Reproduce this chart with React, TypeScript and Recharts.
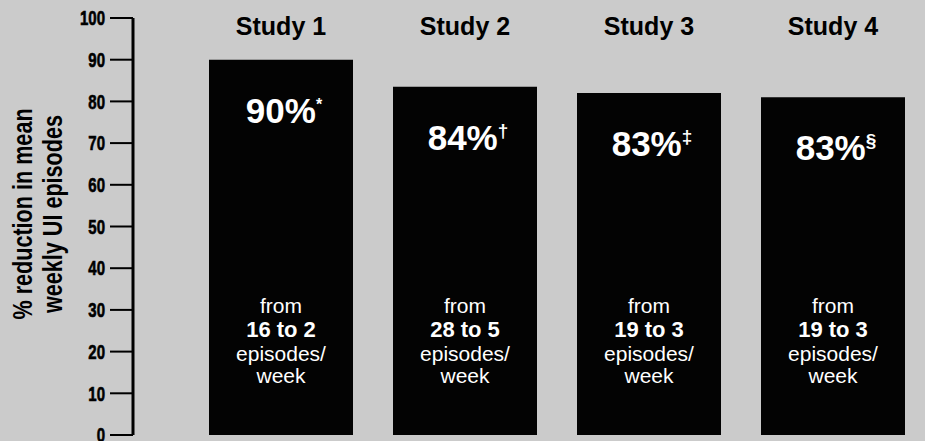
import { Bar, BarChart, XAxis, YAxis, LabelList, Label } from "recharts";

const studies = ["Study 1", "Study 2", "Study 3", "Study 4"];
const reductions = [90, 83.5, 82, 81];
const percentLabels = ["90%", "84%", "83%", "83%"];
const footnotes = ["*", "\u2020", "\u2021", "\u00A7"];
const episodesFrom = [16, 28, 19, 19];
const episodesTo = [2, 5, 3, 3];
const yTicks = [0, 10, 20, 30, 40, 50, 60, 70, 80, 90, 100];

// no condensed face available, so squeeze the bold sans horizontally
const SANS = '"Liberation Sans", Arial, Helvetica, sans-serif';
const SQUEEZE = 0.8;

const data = studies.map((study, i) => ({
  study,
  value: reductions[i],
  pct: percentLabels[i],
  note: footnotes[i],
  from: episodesFrom[i],
  to: episodesTo[i],
}));

function StudyTick({ x, y, payload }: any) {
  return (
    <text x={x} y={y} dy={17} textAnchor="middle" fontFamily={SANS} fontWeight="bold" fontSize={25} fill="#000">
      {payload.value}
    </text>
  );
}

function ValueTick({ x, y, payload }: any) {
  return (
    <text
      transform={`translate(${x},${y}) scale(0.75,1)`}
      dy="0.36em"
      textAnchor="end"
      fontFamily={SANS}
      fontWeight="bold"
      fontSize={20}
      stroke="#000"
      strokeWidth={0.6}
      fill="#000"
    >
      {payload.value}
    </text>
  );
}

function PercentLabel({ x, y, width, index }: any) {
  const d = data[index];
  const cx = x + width / 2 + 3;
  return (
    <text x={cx} y={y + 63} textAnchor="middle" fontFamily={SANS} fontWeight="bold" fill="#fff">
      <tspan fontSize={35}>{d.pct}</tspan>
      <tspan fontSize={d.note === "*" ? 16 : 19} dy={-13}>{d.note}</tspan>
    </text>
  );
}

function EpisodesLabel({ x, y, width, height, index }: any) {
  const d = data[index];
  const cx = x + width / 2;
  const bottom = y + height;
  return (
    <g fontFamily={SANS} fill="#fff" textAnchor="middle">
      <text x={cx} y={bottom - 122} fontSize={21}>from</text>
      <text x={cx} y={bottom - 98} fontSize={22} fontWeight="bold">{`${d.from} to ${d.to}`}</text>
      <text x={cx} y={bottom - 74} fontSize={21}>episodes/</text>
      <text x={cx} y={bottom - 52} fontSize={21}>week</text>
    </g>
  );
}

function YTitle() {
  return (
    <g fontFamily={SANS} fontWeight="bold" fontSize={27} fill="#000" textAnchor="middle">
      <text transform={`translate(32,214) rotate(-90) scale(${SQUEEZE},1)`}>% reduction in mean</text>
      <text transform={`translate(62,214) rotate(-90) scale(${SQUEEZE},1)`}>weekly UI episodes</text>
    </g>
  );
}

export default function App() {
  return (
    <div style={{ position: "absolute", left: 0, top: 0, width: 925, height: 441, background: "#cbcbcb" }}>
      <BarChart width={925} height={441} data={data} margin={{ top: 0, right: 0, bottom: 6, left: 0 }} barCategoryGap={20}>
        <XAxis
          xAxisId="top"
          orientation="top"
          dataKey="study"
          height={18}
          axisLine={false}
          tickLine={false}
          tickSize={0}
          tickMargin={0}
          padding={{ left: 56, right: 0 }}
          tick={<StudyTick />}
          interval={0}
        />
        <XAxis
          xAxisId="bottom"
          dataKey="study"
          height={0}
          axisLine={{ stroke: "#000", strokeWidth: 3 }}
          tickLine={false}
          tick={false}
          padding={{ left: 56, right: 0 }}
        />
        <YAxis
          width={133}
          domain={[0, 100]}
          ticks={yTicks}
          interval={0}
          axisLine={{ stroke: "#000", strokeWidth: 3 }}
          tickLine={{ stroke: "#000", strokeWidth: 2 }}
          tickSize={23}
          tickMargin={5}
          tick={<ValueTick />}
        >
          <Label content={<YTitle />} />
        </YAxis>
        <Bar dataKey="value" xAxisId="bottom" fill="#030303" isAnimationActive={false}>
          <LabelList dataKey="pct" content={<PercentLabel />} />
          <LabelList dataKey="from" content={<EpisodesLabel />} />
        </Bar>
      </BarChart>
    </div>
  );
}
